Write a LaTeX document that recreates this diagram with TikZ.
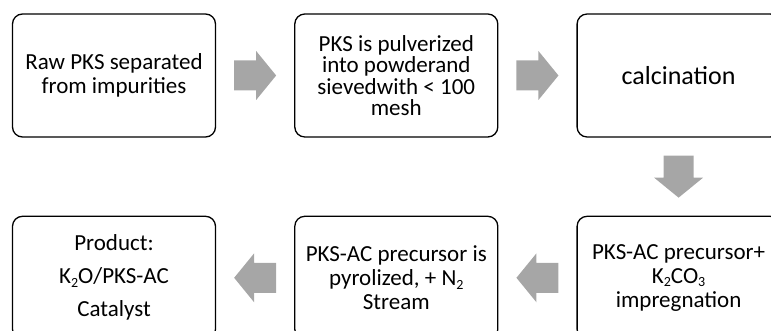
\documentclass[tikz,border=0pt]{standalone}
\usepackage{fontspec}
\setmainfont{Carlito}
\usetikzlibrary{positioning,calc}
\definecolor{arrgray}{RGB}{166,166,166}
\def\ksub#1{\raisebox{-3.5pt}{\fontsize{14}{14}\selectfont#1}}

\begin{document}
\begin{tikzpicture}[x=1pt,y=-1pt,node distance=78pt,
  stepbox/.style={draw,line width=1.3pt,rounded corners=10pt,minimum width=203pt,
    minimum height=123pt,align=center,inner sep=0pt,font=\fontsize{23}{24}\selectfont},
  flow/.pic={\fill[arrgray] (-21,-15) -- (1,-15) -- (1,-24.5) -- (21,0) -- (1,24.5) -- (1,15) -- (-21,15) -- cycle;}]
  \clip (0,0) rectangle (771,331);
  % top row
  \node[stepbox] (raw) at (114,75.5) {Raw PKS separated\\from impurities};
  \node[stepbox,right=of raw,font=\fontsize{23}{21.5}\selectfont] (pulv) {PKS is pulverized\\into powderand\\sievedwith < 100\\mesh};
  \node[stepbox,right=of pulv,font=\fontsize{26}{30}\selectfont] (calc) {calcination};
  % bottom row
  \node[stepbox,below=of calc,font=\fontsize{23}{24}\selectfont] (impr) {PKS-AC precursor+\\K\ksub{2}CO\ksub{3}\\impregnation};
  \node[stepbox,left=of impr] (pyro) {PKS-AC precursor is\\pyrolized, + N\ksub{2}\\Stream};
  \node[stepbox,left=of pyro,font=\fontsize{23}{33}\selectfont] (prod) {Product:\\K\ksub{2}O/PKS-AC\\Catalyst};
  % arrows
  \pic at ($(raw.east)!0.5!(pulv.west)$) {flow};
  \pic at ($(pulv.east)!0.5!(calc.west)$) {flow};
  \pic[rotate=-90] at ($(calc.south)!0.5!(impr.north)$) {flow};
  \pic[rotate=180] at ($(impr.west)!0.5!(pyro.east)$) {flow};
  \pic[rotate=180] at ($(pyro.west)!0.5!(prod.east)$) {flow};
\end{tikzpicture}
\end{document}
